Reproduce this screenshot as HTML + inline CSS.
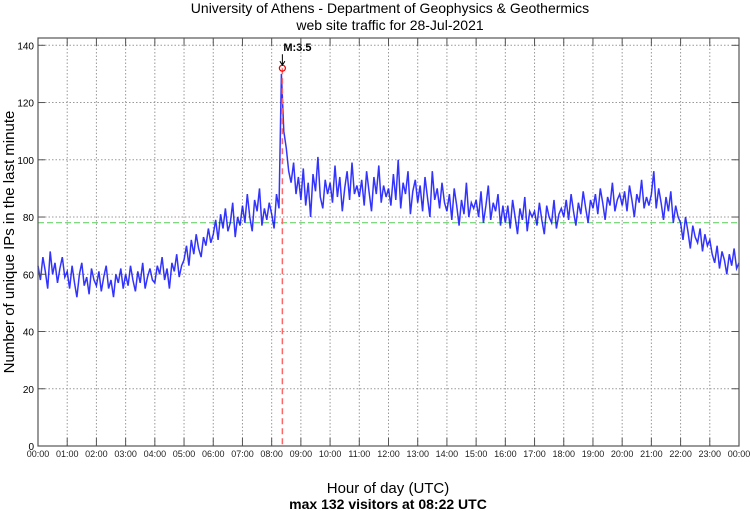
<!DOCTYPE html>
<html><head><meta charset="utf-8"><style>
body{margin:0;background:#fff;}
svg{display:block;font-family:"Liberation Sans",sans-serif;}
</style></head><body>
<svg id="chart" width="750" height="511" viewBox="0 0 750 511">
<text x="390" y="13" font-size="14" text-anchor="middle">University of Athens - Department of Geophysics &amp; Geothermics</text>
<text x="390" y="30" font-size="14" text-anchor="middle">web site traffic for 28-Jul-2021</text>
<g id="grid"></g>
<g id="series"></g>
<g id="axes"></g>
<text x="388" y="493" font-size="15" text-anchor="middle">Hour of day (UTC)</text>
<text x="388" y="509" font-size="14" font-weight="bold" text-anchor="middle">max 132 visitors at 08:22 UTC</text>
<text transform="translate(14,242) rotate(-90)" font-size="15" text-anchor="middle">Number of unique IPs in the last minute</text>
</svg>
<script>
const yTicks=[0,20,40,60,80,100,120,140];
const xTickLabels=["00:00","01:00","02:00","03:00","04:00","05:00","06:00","07:00","08:00","09:00","10:00","11:00","12:00","13:00","14:00","15:00","16:00","17:00","18:00","19:00","20:00","21:00","22:00","23:00","00:00"];
// visitors, one value per 5 minutes
const visitors=[
63,58,66,61,55,68,60,64,57,62,66,59,
61,55,63,57,52,60,64,56,59,53,62,58,
56,61,54,59,63,55,58,52,60,57,62,55,
60,56,63,58,54,61,57,64,55,59,62,58,
57,63,60,66,58,62,55,64,61,67,59,63,
65,70,63,72,67,74,69,66,73,70,76,71,
74,79,72,81,76,83,75,78,85,73,80,77,
84,78,88,80,75,86,82,90,77,83,79,85,
81,76,88,83,130,110,104,96,92,99,88,94,
86,97,84,92,80,95,89,101,87,83,93,88,
92,85,98,87,94,82,90,96,86,99,88,91,
87,93,84,96,89,82,94,88,98,85,91,87,
90,84,95,86,100,83,92,88,96,81,89,93,
85,91,82,94,87,80,96,86,90,83,92,85,
82,88,79,90,84,77,86,81,92,80,85,83,
86,80,89,78,84,91,79,85,82,88,77,84,
78,84,76,86,80,74,83,79,87,75,82,80,
82,77,85,79,74,84,80,78,86,76,81,83,
80,86,79,88,82,77,85,81,89,83,78,86,
83,88,81,90,85,79,87,84,92,82,86,88,
84,89,82,91,86,80,88,85,93,83,87,84,
88,96,83,90,85,79,87,82,89,78,84,80,
78,72,80,75,69,77,73,71,76,68,74,70,
72,67,64,70,62,68,65,60,67,63,69,62,64];
const stepMinutes=[5];
const peakHour=[8+22/60];
const peakValue=[132];
const meanValue=[78];
const eventLabel=["M:3.5"];

const NS="http://www.w3.org/2000/svg";
const L=38,R=739,T=38,B=446;
const x=h=>L+h*(R-L)/24;
const y=v=>B-v*(B-45.3)/140;
function mk(tag,attrs,parent){const e=document.createElementNS(NS,tag);for(const k in attrs)e.setAttribute(k,attrs[k]);parent.appendChild(e);return e;}
const grid=document.getElementById('grid'),axes=document.getElementById('axes'),ser=document.getElementById('series');
for(let i=1;i<24;i++){const g=mk('line',{x1:x(i),x2:x(i),y1:T,y2:B,stroke:'#999','stroke-dasharray':'1.5,2','stroke-width':1},grid);

}
yTicks.forEach(v=>{if(v>0){const g=mk('line',{x1:L,x2:R,y1:y(v),y2:y(v),stroke:'#999','stroke-dasharray':'1.5,2','stroke-width':1},grid);

}
const t=mk('text',{x:L-4,y:y(v)+4,'font-size':10,'text-anchor':'end'},axes);t.textContent=v;


mk('line',{x1:L,x2:L+7,y1:y(v),y2:y(v),stroke:'#555'},axes);mk('line',{x1:R,x2:R-7,y1:y(v),y2:y(v),stroke:'#555'},axes);});
xTickLabels.forEach((s,i)=>{const t=mk('text',{x:x(i),y:457,'font-size':9,'text-anchor':'middle',fill:'#222'},axes);t.textContent=s;


mk('line',{x1:x(i),x2:x(i),y1:B,y2:B-8,stroke:'#555'},axes);mk('line',{x1:x(i),x2:x(i),y1:T,y2:T+8,stroke:'#555'},axes);});
const frame=mk('rect',{x:L,y:T,width:R-L,height:B-T,fill:'none',stroke:'#555','stroke-width':1.2},axes);


const mean=mk('line',{x1:L,x2:R,y1:y(meanValue[0]),y2:y(meanValue[0]),stroke:'#5c5','stroke-dasharray':'6,3','stroke-width':1},ser);


const pts=visitors.map((v,i)=>x(i*stepMinutes[0]/60).toFixed(1)+','+y(v).toFixed(1)).join(' ');
const pl=mk('polyline',{points:pts,fill:'none',stroke:'#0000ff','stroke-width':1.5,'stroke-opacity':0.8},ser);


const ev=mk('line',{x1:x(peakHour[0]),x2:x(peakHour[0]),y1:y(peakValue[0]),y2:B,stroke:'#f66','stroke-dasharray':'6,4','stroke-width':1.5},ser);


const c=mk('circle',{cx:x(peakHour[0]),cy:y(peakValue[0]),r:3,fill:'none',stroke:'#e00','stroke-width':1.2},ser);


const ar=mk('path',{d:`M${x(peakHour[0])},${y(peakValue[0])-14} V${y(peakValue[0])-3} M${x(peakHour[0])-2.5},${y(peakValue[0])-7} L${x(peakHour[0])},${y(peakValue[0])-3} L${x(peakHour[0])+2.5},${y(peakValue[0])-7}`,fill:'none',stroke:'#000','stroke-width':1},ser);


const lab=mk('text',{x:x(peakHour[0])+1,y:y(peakValue[0])-17,'font-size':11,'font-weight':'bold'},ser);lab.textContent=eventLabel[0];


</script>
</body></html>
